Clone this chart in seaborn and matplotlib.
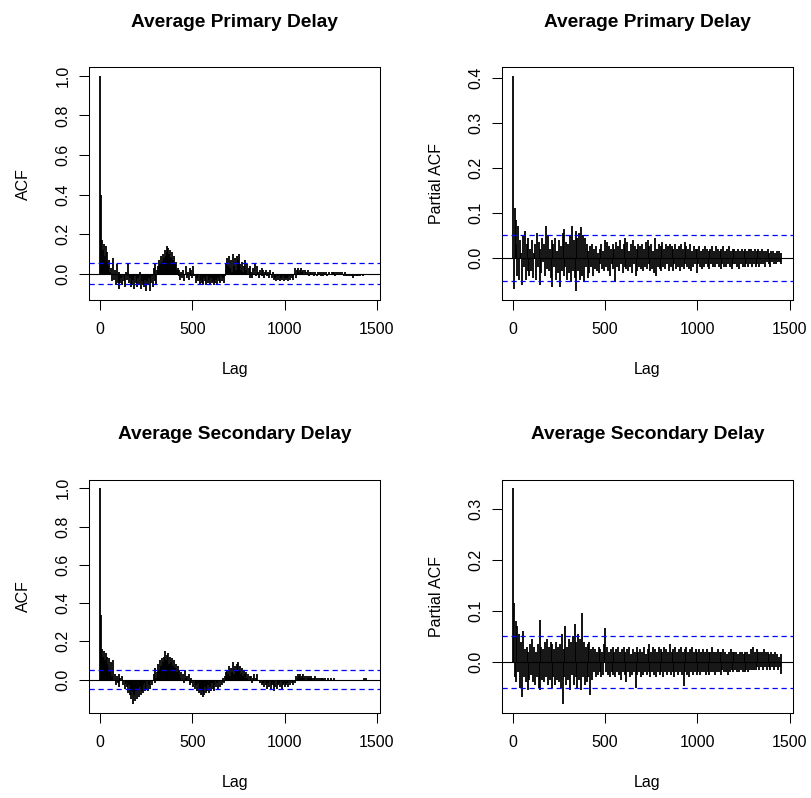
import numpy as np
import pandas as pd
import matplotlib
matplotlib.use("Agg")
import matplotlib.pyplot as plt
import seaborn as sns

# ---------------- data (every 5th lag) ----------------
n_obs = 1461
lag_step = 5

acf_primary = [
    1.00, 0.40, 0.17, 0.12, 0.15, 0.09, 0.14, 0.06, 0.11, 0.04,
    0.07, 0.01, 0.03, -0.04, 0.08, -0.03, 0.02, -0.06, 0.05, -0.05,
    -0.08, 0.01, -0.05, -0.02, -0.06, 0.00, -0.04, -0.07, 0.01, -0.03,
    0.05, -0.05, -0.02, -0.07, 0.00, -0.06, -0.03, -0.08, -0.01, -0.05,
    -0.07, -0.02, -0.06, 0.01, -0.08, -0.04, -0.06, -0.01, -0.07, -0.03,
    -0.09, -0.04, -0.06, -0.02, -0.09, -0.05, -0.01, -0.07, 0.03, -0.04,
    0.05, -0.06, 0.02, 0.04, 0.07, 0.05, 0.09, 0.06, 0.10, 0.08,
    0.12, 0.09, 0.14, 0.11, 0.13, 0.10, 0.12, 0.08, 0.11, 0.07,
    0.09, 0.05, 0.06, 0.02, 0.03, -0.01, 0.02, -0.03, 0.01, -0.02,
    0.02, -0.04, 0.00, 0.04, -0.02, 0.01, -0.03, 0.03, -0.01, 0.02,
    -0.02, 0.04, -0.01, 0.00, -0.05, -0.02, -0.04, 0.00, -0.06, -0.03,
    -0.05, -0.01, -0.06, -0.02, -0.04, -0.06, -0.01, -0.05, -0.03, -0.06,
    -0.02, -0.05, -0.04, -0.06, -0.01, -0.05, -0.03, -0.06, -0.02, -0.04,
    -0.05, -0.01, -0.04, -0.02, -0.05, -0.01, 0.02, 0.05, 0.08, 0.04,
    0.09, 0.03, 0.07, 0.01, 0.10, 0.04, 0.08, 0.02, 0.09, 0.03,
    0.07, 0.10, 0.05, 0.02, 0.06, 0.01, 0.04, 0.07, 0.02, 0.05,
    0.00, 0.03, -0.02, 0.04, 0.01, -0.02, 0.03, 0.00, 0.05, -0.01,
    0.04, 0.01, -0.02, 0.02, 0.00, 0.03, -0.01, 0.02, -0.02, 0.01,
    0.02, -0.01, 0.01, -0.02, 0.02, 0.00, -0.02, 0.01, -0.03, 0.00,
    -0.02, -0.04, -0.01, -0.03, 0.00, -0.04, -0.02, -0.03, -0.01, -0.04,
    -0.02, -0.03, 0.00, -0.02, -0.04, -0.01, -0.03, 0.00, -0.02, -0.03,
    0.00, 0.03, -0.02, 0.02, 0.01, 0.03, 0.00, 0.02, 0.03, 0.01,
    0.02, 0.00, 0.02, 0.01, 0.00, 0.02, -0.01, 0.01, 0.00, 0.01,
    0.00, 0.01, -0.01, 0.01, 0.00, -0.01, 0.01, 0.00, 0.01, -0.01,
    0.01, 0.00, -0.01, 0.01, 0.00, 0.01, -0.01, 0.00, 0.01, 0.00,
    0.00, 0.01, 0.01, 0.00, 0.01, -0.01, 0.01, 0.00, 0.01, 0.00,
    0.01, 0.00, 0.01, 0.00, -0.01, 0.01, 0.00, -0.01, -0.01, 0.00,
    -0.01, -0.01, 0.00, -0.01, -0.02, -0.01, 0.00, -0.01, -0.01, 0.00,
    -0.01, 0.00, -0.01, 0.00, 0.00, -0.01, 0.00, 0.00, 0.00, 0.00,
    0.00, 0.00, 0.00,
]

acf_secondary = [
    1.00, 0.34, 0.16, 0.12, 0.15, 0.10, 0.14, 0.08, 0.12, 0.06,
    0.11, 0.04, 0.09, 0.02, 0.10, 0.00, 0.03, -0.03, 0.02, -0.02,
    0.03, -0.04, 0.01, -0.01, 0.02, -0.03, 0.00, -0.05, -0.02, -0.04,
    -0.07, -0.03, -0.08, -0.05, -0.10, -0.06, -0.13, -0.08, -0.11, -0.06,
    -0.10, -0.05, -0.09, -0.04, -0.08, -0.06, -0.03, -0.07, -0.02, -0.06,
    -0.05, -0.01, -0.06, -0.03, -0.05, 0.00, -0.03, -0.01, 0.03, -0.02,
    0.06, 0.01, 0.04, 0.08, 0.05, 0.10, 0.07, 0.11, 0.09, 0.12,
    0.15, 0.10, 0.13, 0.09, 0.14, 0.08, 0.12, 0.09, 0.11, 0.07,
    0.10, 0.06, 0.08, 0.04, 0.07, 0.03, 0.05, 0.01, 0.04, 0.00,
    0.03, -0.02, 0.05, 0.01, 0.02, -0.01, 0.03, -0.03, 0.01, -0.02,
    -0.01, -0.04, 0.00, -0.05, -0.03, -0.06, -0.02, -0.07, -0.05, -0.08,
    -0.06, -0.09, -0.05, -0.08, -0.04, -0.07, -0.06, -0.03, -0.07, -0.04,
    -0.06, -0.02, -0.05, -0.03, -0.06, -0.01, -0.04, -0.02, -0.05, -0.01,
    -0.04, 0.00, -0.03, 0.01, -0.02, 0.02, 0.04, 0.01, 0.05, 0.03,
    0.07, 0.02, 0.06, 0.04, 0.09, 0.03, 0.07, 0.05, 0.08, 0.04,
    0.09, 0.05, 0.07, 0.03, 0.06, 0.02, 0.05, 0.03, 0.04, 0.01,
    0.03, 0.00, 0.02, -0.01, 0.02, -0.02, 0.01, 0.03, -0.01, 0.01,
    0.03, -0.01, 0.00, -0.02, -0.01, -0.03, 0.00, -0.02, -0.04, -0.01,
    -0.03, -0.05, -0.02, -0.04, -0.01, -0.05, -0.03, -0.02, -0.06, -0.03,
    -0.04, -0.01, -0.05, -0.03, -0.02, -0.04, -0.01, -0.05, -0.03, -0.02,
    -0.04, -0.01, -0.03, -0.02, -0.04, 0.00, -0.03, -0.01, -0.02, -0.03,
    0.00, -0.02, 0.02, 0.00, 0.03, 0.01, 0.02, 0.03, 0.01, 0.02,
    0.03, 0.01, 0.02, 0.00, 0.02, 0.01, 0.02, 0.00, 0.01, 0.02,
    0.01, 0.00, 0.01, 0.02, 0.00, 0.01, -0.01, 0.01, 0.00, 0.01,
    0.00, 0.01, 0.01, 0.00, 0.01, -0.01, 0.00, 0.01, 0.00, -0.01,
    0.01, 0.00, 0.00, -0.01, 0.01, 0.00, -0.01, 0.00, 0.00, -0.01,
    0.00, -0.01, 0.00, -0.01, -0.01, 0.00, -0.01, 0.00, -0.01, -0.01,
    -0.01, 0.00, -0.01, -0.01, 0.00, -0.01, -0.01, 0.00, -0.01, 0.00,
    -0.01, -0.01, 0.00, -0.01, 0.00, 0.00, 0.01, 0.00, 0.01, 0.00,
    0.00, 0.00, 0.00,
]

pacf_primary = [
    0.405, -0.07, 0.11, 0.03, 0.085, -0.04, 0.07, -0.05, 0.04, 0.01,
    -0.06, 0.05, -0.02, 0.06, -0.05, 0.03, -0.03, 0.045, -0.04, 0.02,
    -0.03, 0.04, -0.045, 0.01, 0.03, -0.05, 0.055, -0.02, 0.035, -0.06,
    0.02, -0.035, 0.045, -0.01, 0.03, -0.04, 0.07, -0.025, 0.05, -0.03,
    0.02, -0.045, 0.04, -0.065, 0.03, -0.02, 0.045, -0.05, 0.015, -0.035,
    0.04, -0.065, 0.025, -0.03, 0.055, -0.04, 0.065, -0.02, 0.035, -0.05,
    0.03, -0.035, 0.05, -0.055, 0.07, -0.03, 0.04, -0.045, 0.06, -0.075,
    0.045, -0.03, 0.055, -0.05, 0.068, -0.04, 0.05, -0.055, 0.045, -0.02,
    0.03, -0.045, 0.015, -0.035, 0.025, -0.02, 0.03, -0.04, 0.02, -0.025,
    0.025, -0.03, 0.01, -0.035, 0.02, -0.015, 0.03, -0.025, 0.015, -0.03,
    0.04, -0.02, 0.035, -0.03, 0.025, -0.04, 0.02, -0.015, 0.03, -0.025,
    0.02, -0.055, 0.035, -0.02, 0.025, -0.03, 0.04, -0.015, 0.02, -0.035,
    0.03, -0.02, 0.045, -0.025, 0.035, -0.03, 0.015, -0.02, 0.03, -0.035,
    0.04, -0.015, 0.025, -0.04, 0.02, -0.03, 0.03, -0.02, 0.025, -0.025,
    0.03, -0.03, 0.02, -0.02, 0.035, -0.025, 0.04, -0.015, 0.025, -0.03,
    0.03, -0.025, 0.015, -0.035, 0.045, -0.04, 0.02, -0.02, 0.03, -0.025,
    0.025, -0.03, 0.035, -0.02, 0.02, -0.025, 0.03, -0.015, 0.025, -0.03,
    0.03, -0.02, 0.025, -0.03, 0.02, -0.015, 0.03, -0.025, 0.02, -0.02,
    0.025, -0.03, 0.03, -0.02, 0.02, -0.025, 0.035, -0.015, 0.025, -0.02,
    0.02, -0.025, 0.03, -0.03, 0.015, -0.02, 0.025, -0.015, 0.02, -0.035,
    0.02, -0.015, 0.025, -0.02, 0.015, -0.025, 0.02, -0.02, 0.025, -0.015,
    0.02, -0.02, 0.015, -0.025, 0.02, -0.015, 0.025, -0.02, 0.015, -0.02,
    0.025, -0.015, 0.02, -0.02, 0.015, -0.025, 0.02, -0.015, 0.025, -0.02,
    0.015, -0.02, 0.02, -0.015, 0.025, -0.02, 0.015, -0.025, 0.02, -0.015,
    0.02, -0.015, 0.015, -0.02, 0.02, -0.025, 0.015, -0.015, 0.02, -0.02,
    0.015, -0.02, 0.02, -0.015, 0.015, -0.02, 0.02, -0.015, 0.02, -0.02,
    0.015, -0.015, 0.02, -0.02, 0.015, -0.015, 0.02, -0.02, 0.015, -0.015,
    0.02, -0.015, 0.015, -0.02, 0.015, -0.01, 0.02, -0.015, 0.01, -0.02,
    0.015, -0.01, 0.015, -0.015, 0.01, -0.015, 0.015, -0.01, 0.015, -0.01,
    0.01, -0.015,
]

pacf_secondary = [
    0.34, 0.115, -0.03, 0.08, -0.04, 0.07, -0.02, 0.055, -0.05, 0.04,
    -0.068, 0.06, -0.03, 0.025, -0.04, 0.03, -0.055, 0.02, -0.035, 0.035,
    -0.025, 0.045, -0.04, 0.03, -0.045, 0.02, -0.03, 0.035, -0.05, 0.083,
    -0.055, 0.03, -0.035, 0.025, -0.04, 0.04, -0.03, 0.045, -0.045, 0.03,
    -0.035, 0.04, -0.05, 0.035, -0.03, 0.025, -0.045, 0.04, -0.035, 0.03,
    -0.04, 0.035, -0.05, 0.055, -0.083, 0.025, -0.03, 0.07, -0.045, 0.03,
    -0.035, 0.045, -0.055, 0.04, -0.025, 0.05, -0.045, 0.075, -0.03, 0.04,
    -0.05, 0.055, -0.035, 0.045, -0.055, 0.095, -0.03, 0.04, -0.045, 0.03,
    -0.04, 0.035, -0.03, 0.04, -0.065, 0.025, -0.035, 0.03, -0.02, 0.025,
    -0.03, 0.02, -0.025, 0.03, -0.02, 0.025, -0.03, 0.02, -0.025, 0.035,
    0.067, -0.02, 0.03, -0.025, 0.02, -0.03, 0.025, -0.02, 0.03, -0.025,
    0.02, -0.03, 0.025, -0.02, 0.03, -0.025, 0.02, -0.035, 0.025, -0.02,
    0.03, -0.025, 0.02, -0.04, 0.025, -0.02, 0.03, -0.03, 0.015, -0.025,
    0.025, -0.02, 0.02, -0.05, 0.03, -0.025, 0.02, -0.02, 0.025, -0.03,
    0.02, -0.025, 0.03, -0.02, 0.015, -0.025, 0.025, -0.02, 0.035, -0.03,
    0.02, -0.02, 0.03, -0.025, 0.025, -0.03, 0.02, -0.02, 0.03, -0.025,
    0.025, -0.02, 0.02, -0.03, 0.03, -0.02, 0.025, -0.025, 0.02, -0.02,
    0.035, -0.025, 0.02, -0.02, 0.025, -0.03, 0.03, -0.02, 0.02, -0.025,
    0.025, -0.02, 0.03, -0.025, 0.02, -0.048, 0.025, -0.02, 0.03, -0.025,
    0.02, -0.03, 0.025, -0.02, 0.03, -0.025, 0.02, -0.02, 0.025, -0.025,
    0.02, -0.02, 0.025, -0.025, 0.02, -0.02, 0.025, -0.02, 0.02, -0.025,
    0.025, -0.02, 0.02, -0.025, 0.02, -0.02, 0.03, -0.02, 0.02, -0.025,
    0.02, -0.02, 0.025, -0.02, 0.02, -0.025, 0.02, -0.015, 0.025, -0.02,
    0.02, -0.02, 0.015, -0.025, 0.02, -0.02, 0.025, -0.015, 0.02, -0.02,
    0.02, -0.015, 0.02, -0.02, 0.015, -0.02, 0.02, -0.015, 0.02, -0.02,
    0.015, -0.02, 0.02, -0.015, 0.02, -0.02, 0.015, -0.015, 0.025, -0.015,
    0.03, -0.015, 0.02, -0.015, 0.025, -0.01, 0.02, -0.015, 0.02, -0.01,
    0.02, -0.015, 0.025, -0.01, 0.02, -0.015, 0.02, -0.01, 0.015, -0.015,
    0.02, -0.01, 0.015, -0.015, 0.02, -0.01, 0.015, -0.015, 0.01, -0.01,
    0.015, -0.023,
]

titles = ["Average Primary Delay", "Average Primary Delay",
          "Average Secondary Delay", "Average Secondary Delay"]
ylabels = ["ACF", "Partial ACF", "ACF", "Partial ACF"]
xticks = [0, 500, 1000, 1500]
yticks_acf = [0.0, 0.2, 0.4, 0.6, 0.8, 1.0]
yticks_pacf_primary = [0.0, 0.1, 0.2, 0.3, 0.4]
yticks_pacf_secondary = [0.0, 0.1, 0.2, 0.3]

# ---------------- style ----------------
sns.set_theme(style="ticks")
plt.rcParams["font.family"] = ["Liberation Sans", "DejaVu Sans"]
plt.rcParams["axes.edgecolor"] = "black"
plt.rcParams["axes.linewidth"] = 0.75
plt.rcParams["text.color"] = "black"
plt.rcParams["axes.labelcolor"] = "black"
plt.rcParams["axes.titlecolor"] = "black"
plt.rcParams["xtick.color"] = "black"
plt.rcParams["ytick.color"] = "black"

W, H = 812, 798
fig = plt.figure(figsize=(W / 100, H / 100), dpi=100)

boxes = [  # left, top, right, bottom in pixels
    (89.3, 67.3, 380.3, 300.0),
    (502.0, 67.3, 793.0, 300.0),
    (89.3, 479.7, 380.3, 713.0),
    (502.0, 479.7, 793.0, 713.0),
]

series = [
    (0, acf_primary, yticks_acf),
    (1, pacf_primary, yticks_pacf_primary),
    (0, acf_secondary, yticks_acf),
    (1, pacf_secondary, yticks_pacf_secondary),
]

clim = 1.96 / np.sqrt(n_obs)
FS = 11.5

for i, ((l, t, r, b), (start, vals, yt)) in enumerate(zip(boxes, series)):
    ax = fig.add_axes([l / W, 1 - b / H, (r - l) / W, (b - t) / H])
    df = pd.DataFrame({"lag": start + lag_step * np.arange(len(vals)),
                       "value": vals})
    ax.vlines(df["lag"], 0, df["value"], color="black", linewidth=1.3,
              zorder=2)
    ax.axhline(0, color="black", linewidth=0.8, zorder=3)
    for c in (clim, -clim):
        ax.axhline(c, color="#0000FF", linewidth=0.9,
                   linestyle=(0, (4.2, 3.0)), zorder=4)

    xmin, xmax = df["lag"].min(), 1460
    xr = xmax - xmin
    ax.set_xlim(xmin - 0.04 * xr, xmax + 0.04 * xr)
    ymin = min(df["value"].min(), -clim)
    ymax = max(df["value"].max(), clim)
    yr = ymax - ymin
    ax.set_ylim(ymin - 0.04 * yr, ymax + 0.04 * yr)

    ax.set_xticks(xticks)
    ax.set_xticklabels([str(v) for v in xticks])
    ax.set_yticks(yt)
    ax.set_yticklabels([f"{v:.1f}" for v in yt], rotation=90, va="center")
    ax.tick_params(axis="both", which="both", direction="out", length=7.2,
                   width=0.75, colors="black", labelsize=FS,
                   top=False, right=False, bottom=True, left=True)
    ax.tick_params(axis="x", pad=8.5)
    ax.tick_params(axis="y", pad=6.5)
    for s in ax.spines.values():
        s.set_visible(True)
        s.set_color("black")
        s.set_linewidth(0.75)

    ax.set_title(titles[i], fontsize=13.8, fontweight="bold", pad=29.2,
                 color="black")
    ax.set_xlabel("Lag", fontsize=FS, color="black")
    ax.set_ylabel(ylabels[i], fontsize=FS, color="black")
    ax.xaxis.label.set_verticalalignment("baseline")
    ax.xaxis.set_label_coords(0.5, -74 / (b - t))
    ax.yaxis.label.set_verticalalignment("baseline")
    ax.yaxis.set_label_coords(-61 / (r - l), 0.5)
    ax.grid(False)
    ax.set_facecolor("white")

fig.patch.set_facecolor("white")
fig.savefig("out.png", dpi=100, facecolor="white")
